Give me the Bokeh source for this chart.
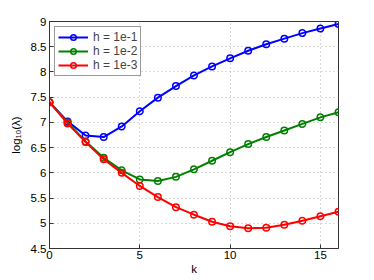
from bokeh.plotting import figure
from bokeh.models import FixedTicker, Range1d, Legend, LegendItem
from bokeh.embed import file_html
from bokeh.resources import INLINE

k = list(range(17))
blue = [7.40, 7.02, 6.74, 6.71, 6.92, 7.22, 7.49, 7.72, 7.93, 8.11, 8.27, 8.42, 8.55, 8.66, 8.77, 8.86, 8.95]
green = [7.40, 7.00, 6.62, 6.30, 6.05, 5.87, 5.84, 5.92, 6.07, 6.24, 6.41, 6.57, 6.71, 6.84, 6.97, 7.10, 7.20]
red = [7.40, 6.98, 6.61, 6.27, 6.00, 5.74, 5.52, 5.32, 5.17, 5.03, 4.94, 4.90, 4.91, 4.97, 5.05, 5.14, 5.23]
labels = ["h = 1e-1", "h = 1e-2", "h = 1e-3"]
x_ticks = [0, 5, 10, 15]
y_ticks = [4.5, 5, 5.5, 6, 6.5, 7, 7.5, 8, 8.5, 9]
y_tick_labels = ["4.5", "5", "5.5", "6", "6.5", "7", "7.5", "8", "8.5", "9"]

FONT = "Liberation Sans"

p = figure(frame_width=289, frame_height=227, output_backend="svg", toolbar_location=None,
           x_range=Range1d(0, 16), y_range=Range1d(4.5, 9),
           min_border_left=49, min_border_top=21, min_border_right=20, min_border_bottom=10,
           background_fill_color="white", border_fill_color="white")

p.outline_line_color = "#333333"
p.outline_line_width = 1

for ax in (p.xaxis[0], p.yaxis[0]):
    ax.major_tick_in = 4
    ax.major_tick_out = 0
    ax.minor_tick_in = 0
    ax.minor_tick_out = 0
    ax.axis_line_color = "#333333"
    ax.major_tick_line_color = "#333333"
    ax.major_label_text_font = FONT
    ax.major_label_text_font_size = "11.5px"
    ax.major_label_text_color = "black"
    ax.axis_label_text_font = FONT
    ax.axis_label_text_font_size = "11.5px"
    ax.axis_label_text_font_style = "normal"
    ax.axis_label_text_color = "black"

p.xaxis.ticker = FixedTicker(ticks=x_ticks)
p.yaxis.ticker = FixedTicker(ticks=y_ticks)
p.yaxis.major_label_overrides = {t: s for t, s in zip(y_ticks, y_tick_labels)}
p.xaxis.axis_label = "k"
p.yaxis.axis_label = "log\u2081\u2080(\u03bb)"
p.xaxis.major_label_standoff = 2
p.yaxis.major_label_standoff = 3
p.xaxis.axis_label_standoff = 1
p.yaxis.axis_label_standoff = 6

p.grid.grid_line_color = "#b0b0b0"
p.grid.grid_line_dash = "1 3"
p.grid.grid_line_width = 1

items = []
for ys, c, lab in zip([blue, green, red], ["#0000ff", "#008000", "#ff0000"], labels):
    l = p.line(k, ys, line_color=c, line_width=2)
    s = p.scatter(k, ys, marker="circle", size=6.5, line_color=c, line_width=1.5, fill_alpha=0)
    items.append(LegendItem(label=lab, renderers=[l, s]))

legend = Legend(items=items, location="top_left", label_text_font=FONT, label_text_font_size="12px",
                border_line_color="#333333", border_line_width=1, padding=3, spacing=0,
                margin=5, glyph_width=30, glyph_height=14, label_height=14, label_standoff=5,
                background_fill_alpha=1)
p.add_layout(legend)

open("out.html", "w").write(file_html(p, INLINE))
